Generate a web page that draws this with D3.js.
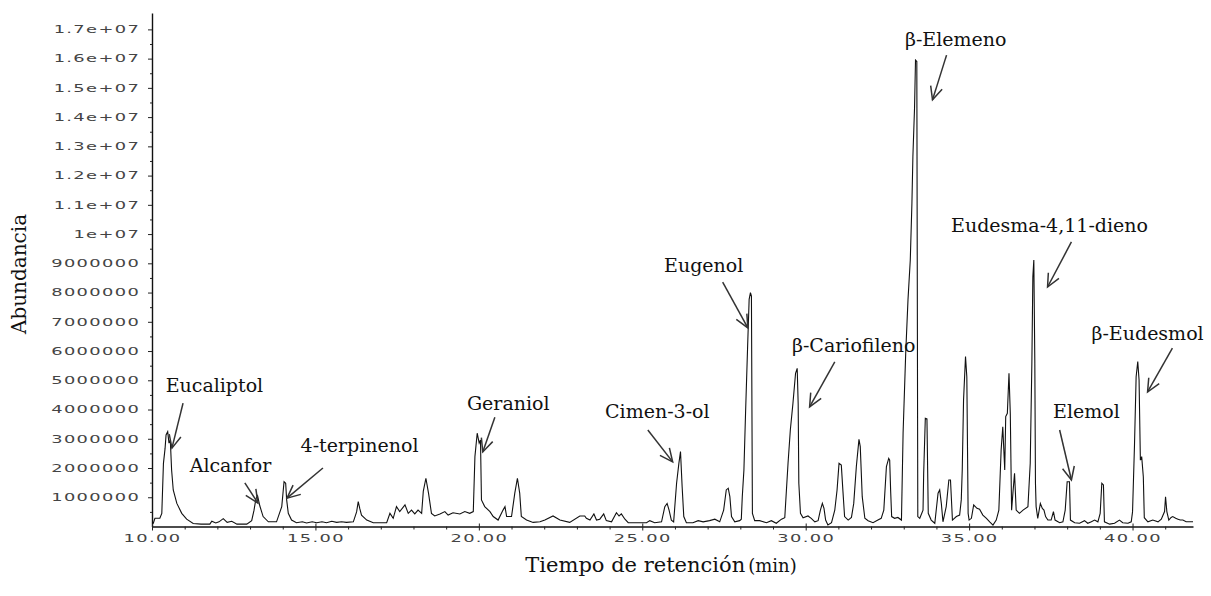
<!DOCTYPE html>
<html>
<head>
<meta charset="utf-8">
<script src="https://cdn.jsdelivr.net/npm/d3@7"></script>
<style>
  body { margin: 0; background: #fff; }
  .tick text { font-family: "DejaVu Sans", sans-serif; font-size: 10.5px; letter-spacing: 0.8px; fill: #444; }
  .label { font-family: "DejaVu Serif", serif; font-size: 19px; fill: #111; }
  .title { font-family: "DejaVu Serif", serif; font-size: 20px; fill: #111; }
</style>
</head>
<body>
<svg id="chart" width="1211" height="596"></svg>
<script>
// retention time (min), abundance (millions of counts)
const tracePoints = [
  [10.00,0.10],[10.04,0.11],[10.09,0.28],[10.24,0.28],[10.30,0.45],[10.35,2.16],[10.40,2.67],[10.43,3.13],
  [10.48,3.24],[10.52,2.85],[10.56,2.96],[10.60,1.93],[10.65,1.25],[10.76,0.79],[10.91,0.45],[11.06,0.25],
  [11.26,0.10],[11.50,0.08],[11.77,0.08],[11.83,0.18],[11.95,0.12],[12.05,0.16],[12.18,0.27],[12.30,0.14],
  [12.44,0.18],[12.60,0.08],[12.90,0.08],[13.05,0.20],[13.12,0.55],[13.18,0.95],[13.23,1.05],[13.30,0.70],
  [13.40,0.34],[13.56,0.16],[13.81,0.16],[13.97,0.68],[14.04,1.53],[14.09,1.48],[14.12,0.91],[14.17,0.45],
  [14.27,0.22],[14.42,0.13],[14.60,0.16],[14.73,0.12],[14.90,0.16],[15.04,0.13],[15.20,0.16],[15.34,0.13],
  [15.50,0.18],[15.65,0.14],[15.80,0.16],[15.95,0.14],[16.16,0.16],[16.26,0.50],[16.31,0.85],[16.36,0.60],
  [16.41,0.39],[16.57,0.22],[16.77,0.13],[17.18,0.13],[17.28,0.45],[17.38,0.28],[17.48,0.68],[17.58,0.51],
  [17.74,0.74],[17.84,0.45],[17.94,0.56],[18.04,0.43],[18.14,0.56],[18.25,0.45],[18.30,1.20],[18.38,1.65],
  [18.46,1.14],[18.55,0.45],[18.65,0.36],[18.81,0.43],[18.96,0.51],[19.06,0.39],[19.21,0.47],[19.42,0.43],
  [19.57,0.51],[19.72,0.45],[19.83,0.51],[19.88,2.39],[19.95,3.19],[20.01,2.85],[20.05,2.96],[20.08,0.91],
  [20.18,0.68],[20.34,0.51],[20.44,0.34],[20.59,0.22],[20.74,0.56],[20.80,0.68],[20.85,0.34],[21.00,0.34],
  [21.10,1.14],[21.18,1.65],[21.25,1.14],[21.30,0.34],[21.46,0.22],[21.66,0.14],[21.87,0.16],[22.02,0.22],
  [22.27,0.36],[22.48,0.22],[22.78,0.14],[23.09,0.36],[23.24,0.36],[23.29,0.28],[23.40,0.22],[23.52,0.43],
  [23.60,0.22],[23.70,0.25],[23.82,0.43],[23.90,0.20],[24.06,0.16],[24.21,0.47],[24.29,0.36],[24.36,0.43],
  [24.47,0.25],[24.57,0.13],[24.72,0.13],[25.13,0.13],[25.23,0.20],[25.38,0.13],[25.59,0.16],[25.69,0.68],
  [25.76,0.79],[25.82,0.56],[25.89,0.22],[25.96,0.16],[26.05,1.48],[26.12,2.16],[26.17,2.56],[26.22,1.36],
  [26.27,0.34],[26.35,0.13],[26.55,0.13],[26.71,0.20],[26.86,0.16],[27.06,0.20],[27.22,0.25],[27.37,0.16],
  [27.49,0.56],[27.57,1.25],[27.63,1.31],[27.68,1.02],[27.73,0.34],[27.83,0.16],[27.98,0.20],[28.03,0.25],
  [28.06,1.02],[28.11,1.93],[28.16,3.87],[28.22,6.04],[28.27,7.77],[28.31,8.00],[28.34,7.88],[28.37,0.45],
  [28.44,0.20],[28.59,0.20],[28.80,0.13],[28.95,0.20],[29.10,0.11],[29.26,0.25],[29.36,0.30],[29.46,2.16],
  [29.53,3.30],[29.61,4.21],[29.69,5.24],[29.74,5.41],[29.77,4.21],[29.79,1.48],[29.84,0.45],[29.92,0.30],
  [30.07,0.36],[30.17,0.28],[30.28,0.16],[30.38,0.20],[30.45,0.56],[30.51,0.79],[30.56,0.62],[30.61,0.22],
  [30.68,0.05],[30.79,0.13],[30.89,0.56],[30.96,1.25],[31.02,2.16],[31.09,2.10],[31.14,1.20],[31.19,0.34],
  [31.30,0.22],[31.40,0.31],[31.47,0.79],[31.55,2.05],[31.63,2.98],[31.67,2.73],[31.73,1.02],[31.81,0.28],
  [31.91,0.20],[32.06,0.13],[32.21,0.22],[32.31,0.28],[32.39,0.56],[32.47,2.05],[32.54,2.33],[32.57,2.27],
  [32.60,1.20],[32.63,0.34],[32.72,0.28],[32.82,0.31],[32.93,0.22],[32.98,3.19],[33.06,5.92],[33.13,7.75],
  [33.20,9.11],[33.25,11.05],[33.28,12.65],[33.33,14.30],[33.36,15.95],[33.40,15.90],[33.43,0.34],[33.49,0.28],
  [33.59,0.56],[33.61,1.82],[33.66,3.70],[33.71,3.68],[33.75,0.45],[33.84,0.22],[33.95,0.11],[34.05,1.14],
  [34.10,1.25],[34.15,0.79],[34.20,0.16],[34.30,0.68],[34.38,1.59],[34.43,1.59],[34.49,0.22],[34.61,0.34],
  [34.71,0.39],[34.76,0.91],[34.79,1.93],[34.83,4.33],[34.89,5.81],[34.93,5.12],[34.97,0.45],[35.00,0.22],
  [35.07,0.28],[35.14,0.74],[35.24,0.62],[35.32,0.59],[35.42,0.39],[35.53,0.28],[35.63,0.16],[35.73,0.05],
  [35.83,0.22],[35.91,0.56],[35.98,2.62],[36.03,3.41],[36.09,1.93],[36.12,3.76],[36.17,3.87],[36.22,5.24],
  [36.26,3.87],[36.30,0.56],[36.34,1.14],[36.39,1.82],[36.44,0.56],[36.54,0.45],[36.65,0.56],[36.80,0.68],
  [36.87,2.16],[36.92,5.58],[36.95,8.54],[36.98,9.11],[37.01,5.69],[37.03,1.48],[37.05,0.68],[37.10,0.28],
  [37.18,0.79],[37.24,0.62],[37.29,0.56],[37.34,0.34],[37.41,0.22],[37.51,0.22],[37.58,0.51],[37.63,0.22],
  [37.77,0.13],[37.87,0.16],[37.94,0.56],[38.00,1.53],[38.07,1.53],[38.10,0.22],[38.23,0.13],[38.38,0.11],
  [38.53,0.20],[38.63,0.11],[38.74,0.16],[38.84,0.22],[38.94,0.16],[39.01,0.45],[39.06,1.48],[39.11,1.42],
  [39.14,0.16],[39.30,0.08],[39.45,0.11],[39.60,0.22],[39.70,0.13],[39.86,0.11],[39.96,0.16],[40.00,0.50],
  [40.06,2.79],[40.11,5.12],[40.16,5.64],[40.20,5.01],[40.24,2.27],[40.28,2.39],[40.33,1.70],[40.36,0.30],
  [40.47,0.16],[40.62,0.22],[40.78,0.16],[40.88,0.25],[40.98,0.51],[41.01,1.02],[41.05,0.51],[41.11,0.22],
  [41.18,0.31],[41.23,0.34],[41.32,0.28],[41.39,0.25],[41.46,0.22],[41.54,0.22],[41.64,0.16],[41.85,0.16]
];

const xTickValues = [10, 15, 20, 25, 30, 35, 40];
const yTickValues = d3.range(1, 18).map(d => d * 1e6);
const yTickLabels = ['1000000', '2000000', '3000000', '4000000', '5000000', '6000000', '7000000',
  '8000000', '9000000', '1e+07', '1.1e+07', '1.2e+07', '1.3e+07', '1.4e+07', '1.5e+07', '1.6e+07', '1.7e+07'];

// compound labels: label centre/baseline, arrow tail and tip (min, millions)
const peakNames = ['Eucaliptol', 'Alcanfor', '4-terpinenol', 'Geraniol', 'Cimen-3-ol', 'Eugenol',
  'β-Cariofileno', 'β-Elemeno', 'Eudesma-4,11-dieno', 'β-Eudesmol', 'Elemol'];
const labelAt = [[11.91, 4.60], [12.40, 1.86], [16.35, 2.55], [20.90, 3.98], [25.46, 3.71], [26.88, 8.70],
  [31.47, 5.97], [34.59, 16.43], [37.46, 10.07], [40.46, 6.38], [38.59, 3.71]];
const arrowFrom = [[10.95, 4.22], [12.84, 1.49], [15.23, 2.00], [20.49, 3.74], [25.17, 3.30], [27.46, 8.36],
  [30.89, 5.63], [34.31, 16.12], [38.13, 9.73], [41.22, 6.10], [37.77, 3.30]];
const arrowTo = [[10.61, 2.68], [13.24, 0.80], [14.13, 0.97], [20.12, 2.55], [25.93, 2.21], [28.23, 6.79],
  [30.12, 4.09], [33.88, 14.59], [37.40, 8.19], [40.46, 4.60], [38.13, 1.59]];

const svg = d3.select('#chart');
const margin = { top: 13, right: 18, bottom: 69.5, left: 152 };
const W = +svg.attr('width');
const H = +svg.attr('height');

const x = d3.scaleLinear().domain([10, 41.85]).range([margin.left, W - margin.right]);
const y = d3.scaleLinear().domain([0, 17.56e6]).range([H - margin.bottom, margin.top]);

// y axis, labels stretched wide like the instrument printout
const yAxis = svg.append('g')
  .attr('transform', `translate(${margin.left},0)`)
  .call(d3.axisLeft(y).tickValues(yTickValues).tickFormat((d, i) => yTickLabels[i])
    .tickSize(4).tickPadding(3).tickSizeOuter(0));
yAxis.selectAll('text').attr('transform', 'scale(1.7,1)');

svg.append('g')
  .attr('transform', `translate(${margin.left},0)`)
  .call(d3.axisLeft(y).tickValues(yTickValues.map(d => d - 5e5)).tickFormat('').tickSize(2))
  .call(g => g.select('.domain').remove());

// x axis
const xAxis = svg.append('g')
  .attr('transform', `translate(0,${H - margin.bottom})`)
  .call(d3.axisBottom(x).tickValues(xTickValues).tickFormat(d3.format('.2f'))
    .tickSize(4).tickPadding(4).tickSizeOuter(0));
xAxis.selectAll('.tick line').attr('y1', -3);
xAxis.selectAll('text').attr('transform', 'scale(1.7,1)');

svg.append('g')
  .attr('transform', `translate(0,${H - margin.bottom})`)
  .call(d3.axisBottom(x).tickValues(d3.range(11, 42).filter(d => d % 5 !== 0)).tickFormat('').tickSize(3))
  .call(g => g.select('.domain').remove());

svg.selectAll('.domain').attr('stroke', '#111').attr('stroke-width', 1.4);
svg.selectAll('.tick line').attr('stroke', '#222');

// trace
const line = d3.line()
  .x(d => x(d[0]))
  .y(d => y(d[1] * 1e6));

svg.append('path')
  .datum(tracePoints)
  .attr('fill', 'none')
  .attr('stroke', '#111')
  .attr('stroke-width', 1.1)
  .attr('d', line);

// arrows
svg.append('defs').append('marker')
    .attr('id', 'head')
    .attr('markerUnits', 'userSpaceOnUse')
    .attr('viewBox', '-16 -8 18 16')
    .attr('markerWidth', 18)
    .attr('markerHeight', 16)
    .attr('refX', 0)
    .attr('refY', 0)
    .attr('orient', 'auto')
  .append('path')
    .attr('d', 'M-13,-6L0,0L-13,6')
    .attr('fill', 'none')
    .attr('stroke', '#333')
    .attr('stroke-width', 1.5);

svg.append('g').selectAll('line')
  .data(peakNames)
  .enter()
  .append('line')
    .attr('x1', (d, i) => x(arrowFrom[i][0]))
    .attr('y1', (d, i) => y(arrowFrom[i][1] * 1e6))
    .attr('x2', (d, i) => x(arrowTo[i][0]))
    .attr('y2', (d, i) => y(arrowTo[i][1] * 1e6))
    .attr('stroke', '#333')
    .attr('stroke-width', 1.5)
    .attr('marker-end', 'url(#head)');

svg.append('g').selectAll('text')
  .data(peakNames)
  .enter()
  .append('text')
    .attr('class', 'label')
    .attr('text-anchor', 'middle')
    .attr('x', (d, i) => x(labelAt[i][0]))
    .attr('y', (d, i) => y(labelAt[i][1] * 1e6))
    .text(d => d);

// axis titles
svg.append('text')
  .attr('class', 'title')
  .attr('text-anchor', 'middle')
  .attr('transform', 'translate(26,274)rotate(-90)')
  .text('Abundancia');

const xt = svg.append('text')
  .attr('class', 'title')
  .attr('text-anchor', 'middle')
  .attr('x', 661)
  .attr('y', 572);
xt.append('tspan').style('font-size', '21px').text('Tiempo de retención');
xt.append('tspan').style('font-size', '18px').attr('dx', 3).text('(min)');
</script>
</body>
</html>
